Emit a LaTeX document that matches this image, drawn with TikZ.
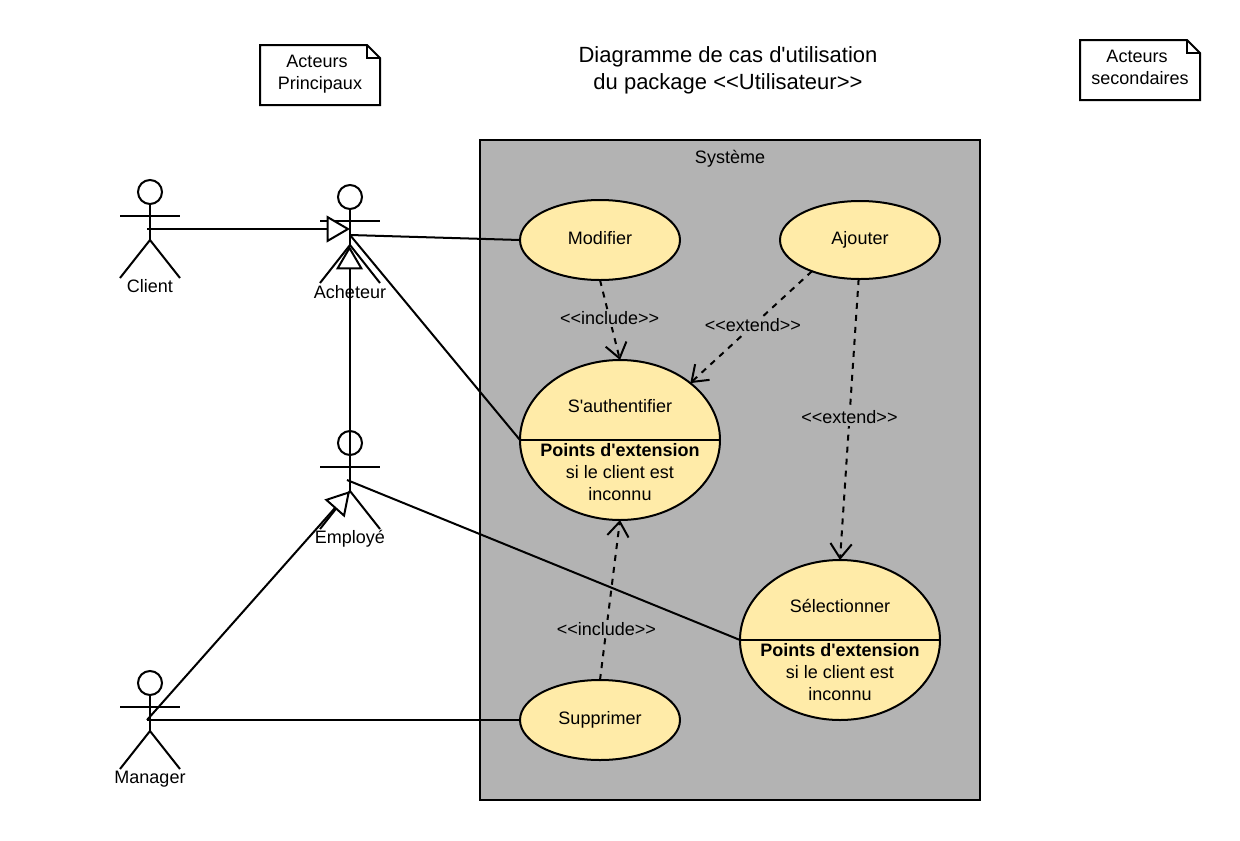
\documentclass[tikz,border=0pt]{standalone}
\usepackage{fontspec}
\setmainfont{Liberation Sans}[Ligatures=TeXOff]
\usetikzlibrary{shapes.geometric,arrows.meta}
\definecolor{sysgrey}{HTML}{B3B3B3}
\definecolor{ucfill}{HTML}{FFEBA8}
\newcommand{\actorfig}[2]{% x, head-centre y
  \draw[umlline] (#1,#2) circle (12);
  \draw[umlline] (#1,#2+12) -- (#1,#2+48);
  \draw[umlline] (#1-30,#2+24) -- (#1+30,#2+24);
  \draw[umlline] (#1-30,#2+86) -- (#1,#2+48) -- (#1+30,#2+86);
}
\newcommand{\notefig}[2]{% left x, top y
  \draw[umlline,fill=white] (#1,#2) -- (#1+107,#2) -- (#1+120,#2+13) -- (#1+120,#2+60) -- (#1,#2+60) -- cycle;
  \draw[umlline] (#1+107,#2) -- (#1+107,#2+13) -- (#1+120,#2+13);
}
\tikzset{
  umlline/.style={line width=1.5pt,black},
  lbl/.style={font=\fontsize{13.5}{16.5}\selectfont,align=center,inner sep=0pt,text=black},
  edgelbl/.style={lbl,fill=sysgrey,inner sep=1.5pt},
  uc/.style={shape=ellipse,draw=black,line width=1.5pt,fill=ucfill,inner sep=0pt,outer sep=0pt},
  ucsmall/.style={uc,minimum width=120pt,minimum height=60pt},
  ucbig/.style={uc,minimum width=150pt,minimum height=120pt},
  gen/.style={umlline,-{Triangle[open,fill=white,length=17.5pt,width=20pt,line width=1.5pt]}},
  dep/.style={line width=1.5pt,black,dash pattern=on 4.5pt off 4.5pt,-{Straight Barb[length=11pt,width=16pt,line width=1.5pt]}},
}
\begin{document}
\begin{tikzpicture}[x=0.75pt,y=-0.75pt]
\useasboundingbox (0,0) rectangle (1240,840);
\fill[white] (0,0) rectangle (1240,840);
% title
\node[lbl,font=\fontsize{16.5}{20}\selectfont] (title) at (728,70.5) {Diagramme de cas d'utilisation\\du package <{}<Utilisateur>{}>};
% notes
\notefig{260}{45}
\node[lbl] (noteA) at (320,74) {Acteurs\hspace*{4.5pt}\\Principaux};
\notefig{1080}{40}
\node[lbl] (noteB) at (1140,67.5) {Acteurs\hspace*{4.5pt}\\secondaires};
% system
\node[draw=black,line width=1.5pt,fill=sysgrey,minimum width=375pt,minimum height=495pt,inner sep=0pt,outer sep=0pt] (system) at (730,470) {};
\node[lbl] (systemlabel) at (730,159) {Système};
% actors
\actorfig{150}{192}
\actorfig{350}{197}
\actorfig{350}{443}
\actorfig{150}{683}
\coordinate (clienthub) at (147,229);
\coordinate (acheteurhub) at (350,235);
\coordinate (acheteurtipL) at (350,229);
\coordinate (acheteurtipB) at (349.5,246);
\coordinate (employehub) at (347,480);
\coordinate (employestem) at (349.5,480);
\coordinate (employetip) at (350,491);
\coordinate (managerhub) at (147,720);
\node[lbl] (client) at (150,286) {Client};
\node[lbl] (acheteur) at (350,292) {Acheteur};
\node[lbl] (employe) at (350,539) {Employé};
\node[lbl] (manager) at (150,779) {Manager};
% use cases
\node[ucsmall] (modifier) at (600,240) {};
\node[lbl,yshift=1.5pt] (modifierT) at (modifier.center) {Modifier};
\node[ucsmall,minimum height=58.5pt] (ajouter) at (860,240) {};
\node[lbl] (ajouterT) at (ajouter.center) {Ajouter};
\node[ucsmall] (supprimer) at (600,720) {};
\node[lbl] (supprimerT) at (supprimer.center) {Supprimer};
\node[ucbig] (sauth) at (620,440) {};
\draw[umlline] (sauth.west) -- (sauth.east);
\node[lbl] (sauthT) at (620,406) {S'authentifier};
\node[lbl] (sauthP) at (620,472) {\textbf{Points d'extension}\\si le client est\\inconnu};
\node[ucbig] (select) at (840,640) {};
\draw[umlline] (select.west) -- (select.east);
\node[lbl] (selectT) at (840,606) {Sélectionner};
\node[lbl] (selectP) at (840,672) {\textbf{Points d'extension}\\si le client est\\inconnu};
% associations
\draw[umlline] (acheteurhub) -- (modifier.west);
\draw[umlline] (acheteurhub) -- (sauth.west);
\draw[umlline] (employehub) -- (select.west);
\draw[umlline] (managerhub) -- (supprimer.west);
% generalisations
\draw[gen] (clienthub) -- (acheteurtipL);
\draw[gen] (employestem) -- (acheteurtipB);
\draw[gen] (managerhub) -- (employetip);
% dependencies
\draw[dep] (modifier.south) -- node[edgelbl,pos=0.48] (inc1) {<{}<include>{}>} (sauth.north);
\draw[dep] (ajouter.213) -- node[edgelbl,pos=0.485] (ext1) {<{}<extend>{}>} (sauth.39);
\draw[dep] (ajouter.268) -- node[edgelbl,pos=0.492] (ext2) {<{}<extend>{}>} (select.north);
\draw[dep] (supprimer.north) -- node[edgelbl,pos=0.32] (inc2) {<{}<include>{}>} (sauth.south);
\end{tikzpicture}
\end{document}
